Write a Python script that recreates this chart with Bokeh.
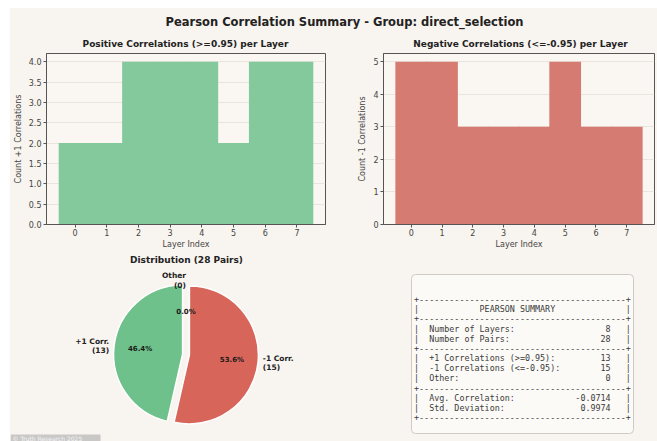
import numpy as np
from bokeh.plotting import figure
from bokeh.layouts import column, row
from bokeh.models import Range1d, SingleIntervalTicker, FixedTicker, PrintfTickFormatter, Spacer
from bokeh.core.properties import value
from bokeh.embed import file_html
from bokeh.resources import INLINE

# ---------------- data ----------------
layers = [0, 1, 2, 3, 4, 5, 6, 7]
pos_counts = [2, 2, 4, 4, 4, 2, 4, 4]
neg_counts = [5, 5, 3, 3, 3, 5, 3, 3]

pie_labels = ["+1 Corr.", "-1 Corr.", "Other"]
pie_values = [13, 15, 0]
pie_explode = [0.05, 0.05, 0.0]

summary_title = "PEARSON SUMMARY"
summary_labels = [
    ["Number of Layers:", "Number of Pairs:"],
    ["+1 Correlations (>=0.95):", "-1 Correlations (<=-0.95):", "Other:"],
    ["Avg. Correlation:", "Std. Deviation:"],
]
summary_values = [
    ["8", "28"],
    ["13", "15", "0"],
    ["-0.0714", "0.9974"],
]

main_title = "Pearson Correlation Summary - Group: direct_selection"
pos_title = "Positive Correlations (>=0.95) per Layer"
neg_title = "Negative Correlations (<=-0.95) per Layer"
pie_title = "Distribution (28 Pairs)"
watermark = "\u00a9 Truth Research 2025"

# ---------------- style ----------------
BG = "#f8f4ef"
INNER = "#faf7f3"
GREEN_BAR = "#84c99c"
RED_BAR = "#d67b71"
GREEN_PIE = "#6ec18b"
RED_PIE = "#d8655a"
FONT = "DejaVu Sans"
MONO = "DejaVu Sans Mono"
W = 647  # content width (page x 10..657)


def bare(width, height, xr, yr):
    f = figure(width=width, height=height, x_range=xr, y_range=yr,
               toolbar_location=None, output_backend="svg",
               x_axis_location=None, y_axis_location=None, min_border=0)
    f.grid.visible = False
    f.outline_line_color = None
    f.background_fill_color = BG
    f.border_fill_color = BG
    return f


# ---------------- title strip (page y 8..49) ----------------
tfig = bare(W, 41, Range1d(0, W), Range1d(41, 0))
tfig.text(x=[334], y=[13], text=[main_title], text_font=value(FONT),
          text_font_size="11.5px", text_font_style="bold", text_color="#222222",
          text_align="center", text_baseline="middle")
tfig.text(x=[175, 510], y=[35, 35], text=[pos_title, neg_title], text_font=value(FONT),
          text_font_size="9px", text_font_style="bold", text_color="#222222",
          text_align="center", text_baseline="middle")


def bar_fig(width, counts, color, ylabel, ymax, interval, fmt, bl, br):
    p = figure(width=width, height=203, x_range=Range1d(-0.9, 7.9),
               y_range=Range1d(0, ymax), toolbar_location=None, output_backend="svg",
               min_border_left=bl, min_border_right=br, min_border_top=4,
               min_border_bottom=28)
    p.vbar(x=layers, top=counts, width=1.03, fill_color=color, line_color=None)
    p.background_fill_color = INNER
    p.border_fill_color = BG
    p.outline_line_color = "#555555"
    p.outline_line_width = 1
    p.xgrid.visible = False
    p.ygrid.grid_line_color = "#e4dfd8"
    p.ygrid.grid_line_width = 0.8
    p.xaxis.ticker = FixedTicker(ticks=layers)
    p.yaxis.ticker = SingleIntervalTicker(interval=interval, num_minor_ticks=0)
    p.yaxis.formatter = PrintfTickFormatter(format=fmt)
    p.xaxis.axis_label = "Layer Index"
    p.yaxis.axis_label = ylabel
    for ax in p.axis:
        ax.axis_line_color = "#555555"
        ax.major_tick_line_color = "#555555"
        ax.major_tick_out = 3
        ax.major_tick_in = 0
        ax.minor_tick_line_color = None
        ax.major_label_text_font = FONT
        ax.major_label_text_font_size = "8px"
        ax.major_label_text_color = "#444444"
        ax.major_label_standoff = 2
        ax.axis_label_text_font = FONT
        ax.axis_label_text_font_size = "8px"
        ax.axis_label_text_font_style = "normal"
        ax.axis_label_text_color = "#444444"
        ax.axis_label_standoff = 3
    p.xaxis.major_label_standoff = 1
    p.xaxis.axis_label_standoff = 1
    return p


# page x 10..338 and 338..657, y 49..252
p1 = bar_fig(328, pos_counts, GREEN_BAR, "Count +1 Correlations", 4.2, 0.5, "%.1f", 35, 13)
p2 = bar_fig(319, neg_counts, RED_BAR, "Count -1 Correlations", 5.25, 1, "%d", 45, 3)

# ---------------- pie (page x 10..338, y 252..441) ----------------
PW, PH = 328, 189
pie = bare(PW, PH, Range1d(0, PW), Range1d(0, PH))
CX, CY, R = 175.5, 87.0, 69.0
vals = np.array(pie_values, dtype=float)
cum = np.concatenate([[0.0], np.cumsum(vals)])
start = np.pi / 2 + 2 * np.pi * cum[:-1] / vals.sum()
end = np.pi / 2 + 2 * np.pi * cum[1:] / vals.sum()
mid = (start + end) / 2
expl = np.array(pie_explode)
cx = CX + expl * R * np.cos(mid)
cy = CY + expl * R * np.sin(mid)
keep = vals > 0
pie.wedge(x=cx[keep], y=cy[keep], radius=R, start_angle=start[keep], end_angle=end[keep],
          fill_color=[GREEN_PIE, RED_PIE], line_color="white", line_width=1.5)

pie.text(x=[176], y=[182], text=[pie_title], text_font=value(FONT), text_font_size="9px",
         text_font_style="bold", text_color="#222222", text_align="center",
         text_baseline="middle")

LD, PD = 1.07, 0.62
for i, lab in enumerate(pie_labels):
    lx = cx[i] + LD * R * np.cos(mid[i])
    ly = cy[i] + LD * R * np.sin(mid[i])
    align = "left" if lx - CX > 0.5 else "right"
    lines = [lab, f"({pie_values[i]})"]
    pie.text(x=[lx, lx], y=[ly + 4.8, ly - 4.8], text=lines, text_font=value(FONT),
             text_font_size="7.5px", text_font_style="bold", text_color="#222222",
             text_align=align, text_baseline="middle")
    px = cx[i] + PD * R * np.cos(mid[i])
    py = cy[i] + PD * R * np.sin(mid[i])
    pct = 100 * vals[i] / vals.sum()
    pie.text(x=[px], y=[py], text=[f"{pct:.1f}%"], text_font=value(FONT),
             text_font_size="7px", text_font_style="bold", text_color="#1a1a1a",
             text_align="center", text_baseline="middle")

# watermark (page y 434..441)
pie.quad(left=[0], right=[90], bottom=[0], top=[7], fill_color="#bdbdbd",
         fill_alpha=0.8, line_color=None)
pie.text(x=[2], y=[3.5], text=[watermark], text_font=value(FONT),
         text_font_size="6px", text_color="#f4f4f4", text_align="left",
         text_baseline="middle")

# ---------------- summary box (page x 338..657, y 252..441) ----------------
SW, SH = 319, 189
summ = bare(SW, SH, Range1d(0, SW), Range1d(SH, 0))
summ.quad(left=[73], right=[295], top=[22], bottom=[181], border_radius=4,
          fill_color="#fcfaf7", line_color="#cfcac3", line_width=1)

border = "+" + "-" * 41 + "+"
text_lines = [border, ("|" + " " * 12 + summary_title).ljust(42) + "|", border]
for labs, vs in zip(summary_labels, summary_values):
    for lab, v in zip(labs, vs):
        s = "|  " + lab
        s = s + " " * (39 - len(s) - len(v)) + v
        s = s.ljust(42) + "|"
        text_lines.append(s)
    text_lines.append(border)
text_lines = [t.replace(" ", "\u00a0") for t in text_lines]
ys = [46.5 + 9.9 * i for i in range(len(text_lines))]
summ.text(x=[75.5] * len(text_lines), y=ys, text=text_lines, text_font=value(MONO),
          text_font_size="8.4px", text_color="#3a3a3a", text_align="left",
          text_baseline="middle")

top_row = row(p1, p2)
top_row.styles = {"background-color": BG}
bottom_row = row(pie, summ)
bottom_row.styles = {"background-color": BG}
content = column(tfig, top_row, bottom_row)
content.styles = {"background-color": BG}
layout = column(Spacer(width=657, height=8),
                row(Spacer(width=10, height=433), content))

open("out.html", "w").write(file_html(layout, INLINE))
